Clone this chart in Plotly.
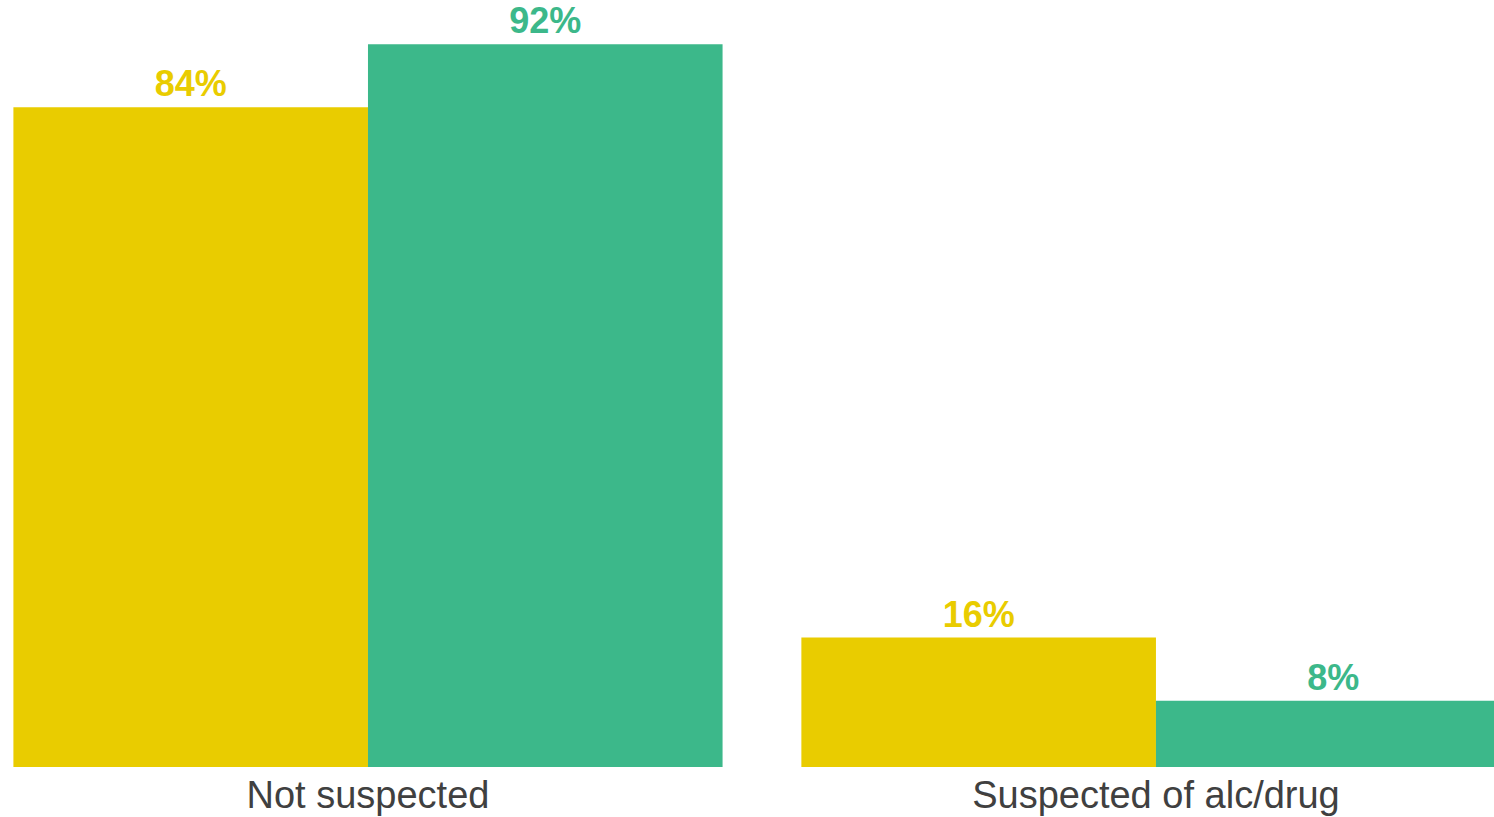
import plotly.graph_objects as go

categories = ["Not suspected", "Suspected of alc/drug"]
series_a = [83.6, 16.4]   # yellow
series_b = [91.6, 8.4]    # green
yellow = "#E9CC00"
green = "#3CB88A"

fig = go.Figure()
for vals, col in [(series_a, yellow), (series_b, green)]:
    fig.add_trace(go.Bar(
        x=categories, y=vals, marker=dict(color=col, line=dict(width=0)),
        texttemplate="%{y:.0f}%", textposition="outside",
        textfont=dict(color=col, size=36, family="Liberation Sans", weight="bold"),
        cliponaxis=True, showlegend=False, hoverinfo="skip",
    ))

fig.update_layout(
    width=1494, height=817,
    margin=dict(l=0, r=0, t=0, b=50),
    barmode="group", bargap=0.1, bargroupgap=0,
    plot_bgcolor="white", paper_bgcolor="white",
)
fig.update_xaxes(range=[-0.467, 1.429], showgrid=False, showline=False, ticks="",
                 tickfont=dict(size=38, color="#404040", family="Liberation Sans"),
                 ticklabelstandoff=2, automargin=False)
fig.update_yaxes(range=[0, 97.2], visible=False, showgrid=False, automargin=False)

fig.write_html("out.html", config={"displayModeBar": False},
               post_script="document.body.style.margin='0';document.body.style.overflow='hidden';")
